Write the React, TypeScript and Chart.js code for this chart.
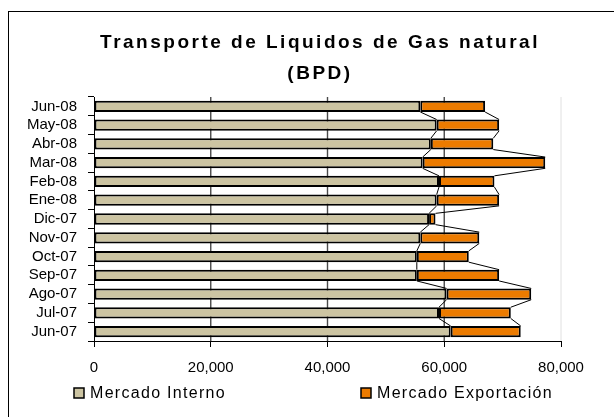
import React, { useEffect, useRef } from "react";
import { Chart, registerables } from "chart.js";

Chart.register(...registerables);

const categories = ["Jun-07", "Jul-07", "Ago-07", "Sep-07", "Oct-07", "Nov-07", "Dic-07", "Ene-08", "Feb-08", "Mar-08", "Abr-08", "May-08", "Jun-08"];
const mercadoInterno = [61100, 59100, 60400, 55300, 55300, 55900, 57400, 58700, 59100, 56300, 57700, 58700, 55900];
const mercadoExportacion = [12000, 12300, 14500, 14100, 8900, 10100, 1100, 10700, 9500, 21000, 10700, 10700, 11100];
const seriesNames = ["Mercado Interno", "Mercado Exportación"];
const titleLines = ["Transporte de Liquidos de Gas natural", "(BPD)"];
const xTicks = [0, 20000, 40000, 60000, 80000];

const FONT = '"Liberation Sans", Arial, sans-serif';
const COLORS = ["#CCC4A2", "#EC7B00"];

const decorPlugin = {
  id: "decor",
  beforeDatasetsDraw(chart: any) {
    const ctx = chart.ctx;
    const xs = chart.scales.x;
    const area = chart.chartArea;
    ctx.save();
    ctx.setLineDash([]);
    for (let k = 1; k < xTicks.length; k++) {
      const last = k === xTicks.length - 1;
      const px = xs.getPixelForValue(xTicks[k]);
      ctx.lineWidth = last ? 1 : 1.4;
      ctx.strokeStyle = last ? "#e0e0e0" : "#4a4a4a";
      ctx.beginPath();
      ctx.moveTo(px, area.top);
      ctx.lineTo(px, area.bottom);
      ctx.stroke();
    }
    ctx.restore();
  },
  afterDatasetsDraw(chart: any) {
    const ctx = chart.ctx;
    ctx.save();
    ctx.strokeStyle = "#000";
    ctx.lineWidth = 1;
    chart.data.datasets.forEach((_: any, di: number) => {
      const meta = chart.getDatasetMeta(di);
      const els = meta.data;
      for (let i = 0; i < els.length - 1; i++) {
        const a = els[i];
        const b = els[i + 1];
        const dir = b.y < a.y ? -1 : 1;
        ctx.beginPath();
        ctx.moveTo(a.x, a.y + (dir * a.height) / 2);
        ctx.lineTo(b.x, b.y - (dir * b.height) / 2);
        ctx.stroke();
      }
    });
    ctx.restore();
  },
  afterDraw(chart: any) {
    const ctx = chart.ctx;
    ctx.save();
    ctx.fillStyle = "#000";
    ctx.font = `bold 19px ${FONT}`;
    (ctx as any).letterSpacing = "2.5px";
    ctx.textAlign = "center";
    ctx.textBaseline = "alphabetic";
    ctx.fillText(titleLines[0], 320, 48);
    ctx.fillText(titleLines[1], 320, 79);
    (ctx as any).letterSpacing = "1.3px";
    ctx.font = `16px ${FONT}`;
    ctx.textAlign = "left";
    ctx.textBaseline = "middle";
    const lx = [74, 361];
    const ly = 393;
    chart.data.datasets.forEach((ds: any, i: number) => {
      ctx.fillStyle = ds.backgroundColor;
      ctx.fillRect(lx[i], ly - 5, 10, 10);
      ctx.strokeStyle = "#000";
      ctx.lineWidth = 1.5;
      ctx.strokeRect(lx[i], ly - 5, 10, 10);
      ctx.fillStyle = "#000";
      ctx.fillText(ds.label, lx[i] + 16, ly + 1);
    });
    ctx.restore();
  },
};

export default function App() {
  const ref = useRef<HTMLCanvasElement>(null);
  useEffect(() => {
    if (!ref.current) return;
    const chart = new Chart(ref.current, {
      type: "bar",
      data: {
        labels: categories,
        datasets: [
          {
            label: seriesNames[0],
            data: mercadoInterno,
            backgroundColor: COLORS[0],
            borderColor: "#000",
            borderWidth: 2,
            borderSkipped: false,
            barPercentage: 0.6,
            categoryPercentage: 1,
          },
          {
            label: seriesNames[1],
            data: mercadoExportacion,
            backgroundColor: COLORS[1],
            borderColor: "#000",
            borderWidth: 2,
            borderSkipped: false,
            barPercentage: 0.6,
            categoryPercentage: 1,
          },
        ],
      },
      plugins: [decorPlugin],
      options: {
        indexAxis: "y",
        animation: false,
        responsive: false,
        maintainAspectRatio: false,
        layout: { padding: { top: 97, right: 53, left: 0, bottom: 36 } },
        plugins: {
          legend: { display: false },
          title: { display: false },
          tooltip: { enabled: false },
        },
        scales: {
          x: {
            stacked: true,
            min: 0,
            max: 80000,
            afterFit: (s: any) => { s.height = 40; },
            afterBuildTicks: (s: any) => { s.ticks = xTicks.map((v) => ({ value: v })); },
            ticks: {
              color: "#000",
              font: { family: FONT, size: 15 },
              padding: 12,
              autoSkip: false,
              maxRotation: 0,
              callback: (v: any) => Number(v).toLocaleString("en-US"),
            },
            grid: {
              drawOnChartArea: false,
              tickColor: "#000",
              tickLength: 6,
              lineWidth: 1,
            },
            border: { color: "#000", width: 1 },
          },
          y: {
            stacked: true,
            reverse: true,
            afterFit: (s: any) => { s.width = 94; },
            ticks: {
              color: "#000",
              font: { family: FONT, size: 15 },
              padding: 11,
              autoSkip: false,
            },
            grid: {
              drawOnChartArea: false,
              tickColor: "#000",
              tickLength: 6,
              offset: true,
            },
            border: { color: "#000", width: 1 },
          },
        },
      },
    });
    return () => chart.destroy();
  }, []);
  return (
    <div style={{ position: "fixed", left: 0, top: 0, width: 614, height: 417, overflow: "hidden", background: "#fff" }}>
      <div style={{ position: "absolute", left: 8, top: 11, width: 700, height: 500, border: "1px solid #000" }} />
      <canvas ref={ref} width={614} height={417} style={{ position: "absolute", left: 0, top: 0, width: 614, height: 417 }} />
    </div>
  );
}
